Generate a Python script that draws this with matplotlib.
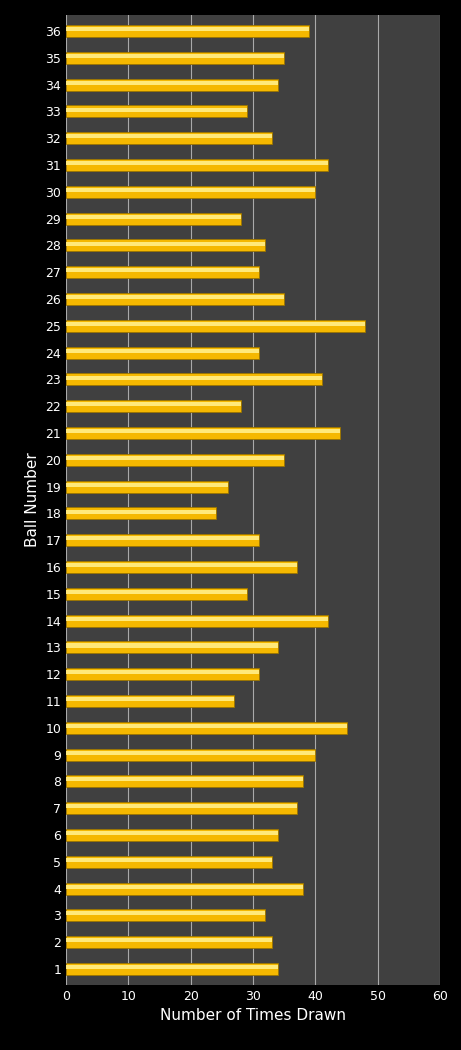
import matplotlib
matplotlib.use("Agg")
import matplotlib.pyplot as plt

balls = list(range(1, 37))
counts = [34,33,32,38,33,34,37,38,40,45,27,31,34,42,29,37,31,24,26,35,
          44,28,41,31,48,35,31,32,28,40,42,33,29,34,35,39]

fig = plt.figure(figsize=(4.61, 10.50), dpi=100, facecolor='black')
ax = fig.add_axes([66/461, 1-985/1050, (440-66)/461, (985-15)/1050])
ax.set_facecolor('#404040')
ax.barh(balls, counts, height=0.45, color='#F5B800', edgecolor='#9A7400', linewidth=0.6, zorder=3)
ax.barh([b+0.07 for b in balls], counts, height=0.15, color='#FFE97A', linewidth=0, zorder=4)
ax.set_xlim(0, 60)
ax.set_ylim(0.4, 36.6)
ax.set_xticks(range(0, 61, 10))
ax.set_yticks(balls)
ax.grid(axis='x', color='#AAAAAA', linewidth=0.8, zorder=0)
for s in ax.spines.values():
    s.set_visible(False)
ax.tick_params(colors='white', labelsize=9, length=0)
ax.set_xlabel('Number of Times Drawn', color='white', fontsize=11)
ax.set_ylabel('Ball Number', color='white', fontsize=11, labelpad=4)
fig.savefig('out.png', facecolor='black')
